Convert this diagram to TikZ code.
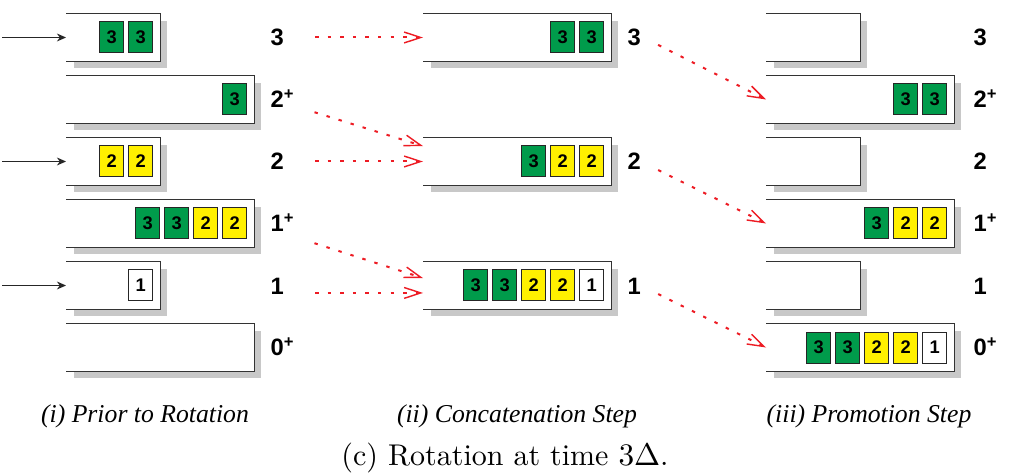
\documentclass[tikz,border=0pt]{standalone}
\usepackage{fontspec}
\usetikzlibrary{positioning,shadows,arrows.meta}
\newfontfamily\figsans{Liberation Sans}
\newfontfamily\figserif{Liberation Serif}
\definecolor{qgreen}{RGB}{0,155,75}
\definecolor{qyellow}{RGB}{255,240,0}
\definecolor{qshade}{RGB}{200,200,200}
\definecolor{moved}{RGB}{237,28,36}

\begin{document}
\begin{tikzpicture}[x=0.35pt,y=-0.35pt,
   qbox/.style={anchor=west,minimum height=16.45pt,inner sep=0pt,fill=white,
     drop shadow={shadow xshift=2.45pt,shadow yshift=-2.6pt,fill=qshade,opacity=1}},
   qshort/.style={qbox,minimum width=32.55pt},
   qlong/.style={qbox,minimum width=65.45pt},
   qline/.style={line width=0.45pt,black!80},
   cell/.style={draw=black!85,line width=0.35pt,minimum width=8.4pt,minimum height=10.85pt,
     inner sep=0pt,font=\figsans\bfseries\fontsize{6.4}{7}\selectfont},
   grn/.style={cell,fill=qgreen},
   yel/.style={cell,fill=qyellow},
   wht/.style={cell,fill=white},
   lbl/.style={anchor=west,inner sep=0pt,text width=10.5pt,text height=5.95pt,text depth=0pt,
     font=\figsans\bfseries\fontsize{8.3}{10}\selectfont},
   steptitle/.style={font=\figserif\itshape\fontsize{9}{11}\selectfont},
   feed/.style={-{Stealth[length=3.2pt,width=2.8pt]},line width=0.35pt,black!85},
   move/.style={moved,line width=0.7pt,dash pattern=on 1.2pt off 3.2pt,
     -{Straight Barb[length=5.8pt,width=3.8pt,line width=0.5pt]}}]
\useasboundingbox (0,0) rectangle (1013,475);

% (i) levels before the rotation
\node[qshort] (a3)  at (66,37.5)  {};
\node[qlong]  (a2p) at (66,99.5)  {};
\node[qshort] (a2)  at (66,161.5) {};
\node[qlong]  (a1p) at (66,223.5) {};
\node[qshort] (a1)  at (66,285.5) {};
\node[qlong]  (a0p) at (66,347.5) {};

% (ii) concatenation
\node[qlong] (b3) at (423,37.5)  {};
\node[qlong] (b2) at (423,161.5) {};
\node[qlong] (b1) at (423,285.5) {};

% (iii) promotion
\node[qshort] (c3)  at (766,37.5)  {};
\node[qlong]  (c2p) at (766,99.5)  {};
\node[qshort] (c2)  at (766,161.5) {};
\node[qlong]  (c1p) at (766,223.5) {};
\node[qshort] (c1)  at (766,285.5) {};
\node[qlong]  (c0p) at (766,347.5) {};

% queues are open on the left
\foreach \q in {a3,a2p,a2,a1p,a1,a0p,b3,b2,b1,c3,c2p,c2,c1p,c1,c0p}
  \draw[qline] (\q.north west) -| (\q.south east) -- (\q.south west);

\node[grn,left=2.45pt of a3.east] (a3x) {3};
\node[grn,left=1.4pt of a3x] (a3y) {3};
\node[grn,left=2.45pt of a2p.east] (a2px) {3};
\node[yel,left=2.45pt of a2.east] (a2x) {2};
\node[yel,left=1.4pt of a2x] (a2y) {2};
\node[yel,left=2.45pt of a1p.east] (a1px) {2};
\node[yel,left=1.4pt of a1px] (a1py) {2};
\node[grn,left=1.4pt of a1py] (a1pz) {3};
\node[grn,left=1.4pt of a1pz] (a1pw) {3};
\node[wht,left=2.45pt of a1.east] (a1x) {1};

\node[grn,left=2.45pt of b3.east] (b3x) {3};
\node[grn,left=1.4pt of b3x] (b3y) {3};
\node[yel,left=2.45pt of b2.east] (b2x) {2};
\node[yel,left=1.4pt of b2x] (b2y) {2};
\node[grn,left=1.4pt of b2y] (b2z) {3};
\node[wht,left=2.45pt of b1.east] (b1x) {1};
\node[yel,left=1.4pt of b1x] (b1y) {2};
\node[yel,left=1.4pt of b1y] (b1z) {2};
\node[grn,left=1.4pt of b1z] (b1w) {3};
\node[grn,left=1.4pt of b1w] (b1v) {3};

\node[grn,left=2.45pt of c2p.east] (c2px) {3};
\node[grn,left=1.4pt of c2px] (c2py) {3};
\node[yel,left=2.45pt of c1p.east] (c1px) {2};
\node[yel,left=1.4pt of c1px] (c1py) {2};
\node[grn,left=1.4pt of c1py] (c1pz) {3};
\node[wht,left=2.45pt of c0p.east] (c0px) {1};
\node[yel,left=1.4pt of c0px] (c0py) {2};
\node[yel,left=1.4pt of c0py] (c0pz) {2};
\node[grn,left=1.4pt of c0pz] (c0pw) {3};
\node[grn,left=1.4pt of c0pw] (c0pv) {3};

% level labels
\node[lbl] (la3)  at (270,37.5)  {3};
\node[lbl] (la2p) at (270,99.5)  {2\textsuperscript{+}};
\node[lbl] (la2)  at (270,161.5) {2};
\node[lbl] (la1p) at (270,223.5) {1\textsuperscript{+}};
\node[lbl] (la1)  at (270,285.5) {1};
\node[lbl] (la0p) at (270,347.5) {0\textsuperscript{+}};

\node[lbl] (lb3) at (627,37.5)  {3};
\node[lbl] (lb2) at (627,161.5) {2};
\node[lbl] (lb1) at (627,285.5) {1};

\node[lbl] (lc3)  at (973,37.5)  {3};
\node[lbl] (lc2p) at (973,99.5)  {2\textsuperscript{+}};
\node[lbl] (lc2)  at (973,161.5) {2};
\node[lbl] (lc1p) at (973,223.5) {1\textsuperscript{+}};
\node[lbl] (lc1)  at (973,285.5) {1};
\node[lbl] (lc0p) at (973,347.5) {0\textsuperscript{+}};

% arrivals
\coordinate (in3) at (2,37.5);
\coordinate (in2) at (2,161.5);
\coordinate (in1) at (2,285.5);
\draw[feed] (in3) -- (a3);
\draw[feed] (in2) -- (a2);
\draw[feed] (in1) -- (a1);

% moves between steps
\draw[move,shorten <=4.9pt] (la3.east) -- (b3.west);
\draw[move,shorten <=4.9pt] ([yshift=-3pt]la2p.east) -- ([yshift=5.4pt]b2.west);
\draw[move,shorten <=4.9pt] (la2.east) -- (b2.west);
\draw[move,shorten <=4.9pt] ([yshift=-5.4pt]la1p.east) -- ([yshift=2.6pt]b1.west);
\draw[move,shorten <=4.9pt] ([yshift=-2.6pt]la1.east) -- ([yshift=-2.6pt]b1.west);

\draw[move] ([yshift=-2.6pt]lb3.east) -- (c2p.west);
\draw[move] ([yshift=-3pt]lb2.east) -- (c1p.west);
\draw[move] ([yshift=-3pt]lb1.east) -- (c0p.west);

% captions
\node[steptitle] (ti)   at (145,416) {(i) Prior to Rotation};
\node[steptitle] (tii)  at (517,416) {(ii) Concatenation Step};
\node[steptitle] (tiii) at (869,416) {(iii) Promotion Step};
\node[font=\fontsize{10.5}{12}\selectfont] (fig) at (505,458) {(c) Rotation at time $3\Delta$.};
\end{tikzpicture}
\end{document}
